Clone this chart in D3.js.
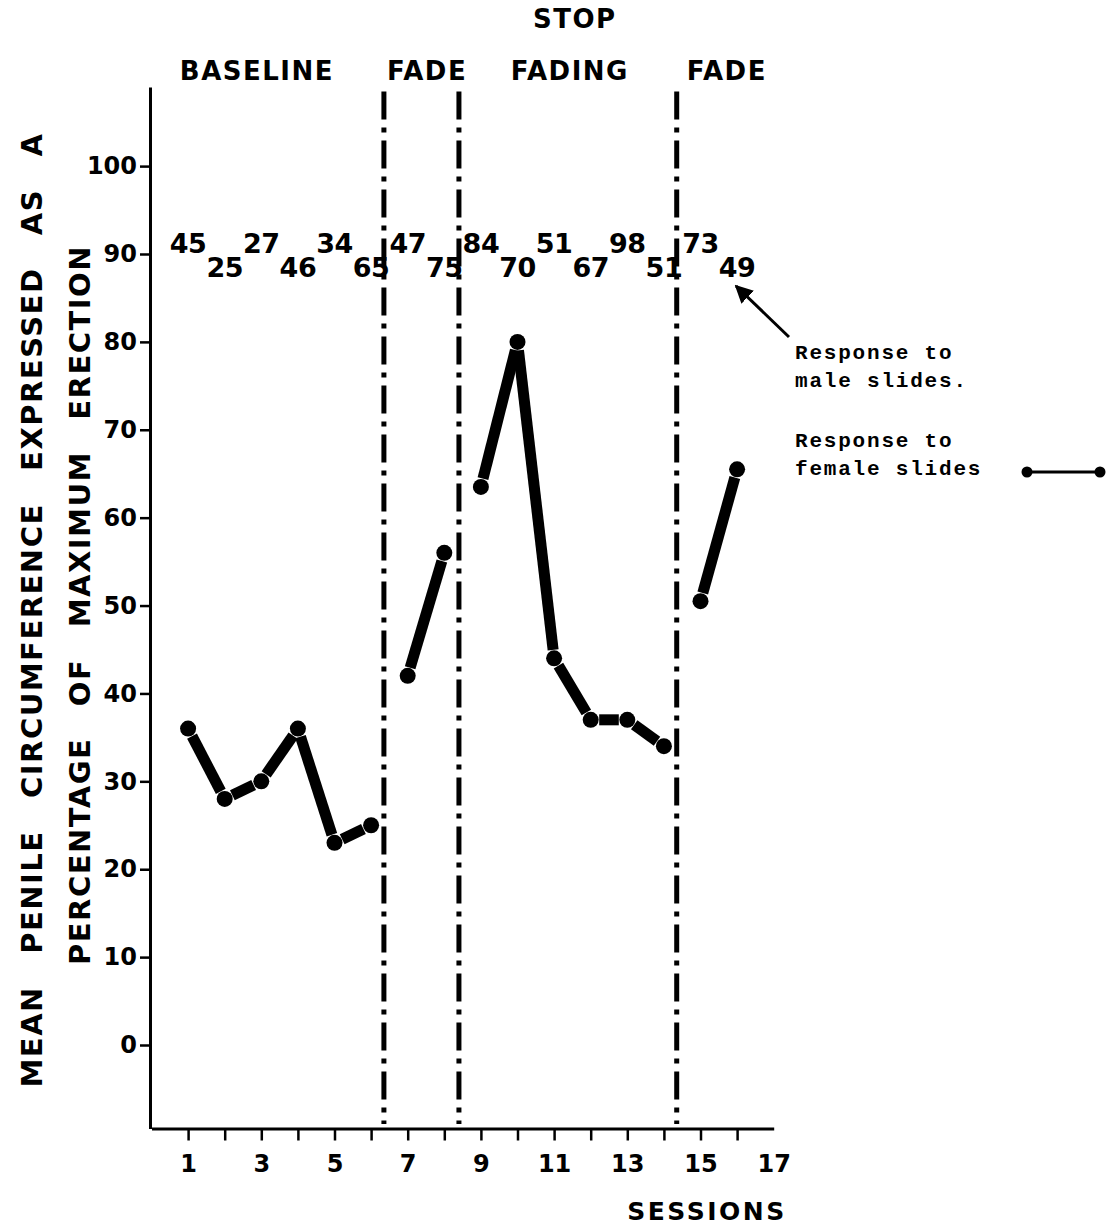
<!DOCTYPE html>
<html>
<head>
<meta charset="utf-8">
<script src="https://cdn.jsdelivr.net/npm/d3@7"></script>
<style>
  body { margin: 0; background: #fff; }
  .bold { font-family: "DejaVu Sans", sans-serif; font-weight: bold; }
  .mono { font-family: "Liberation Mono", "DejaVu Sans Mono", monospace; }
</style>
</head>
<body>
<div id="chart"></div>
<script>
// Sessions and responses
const sessions = [1, 2, 3, 4, 5, 6, 7, 8, 9, 10, 11, 12, 13, 14, 15, 16]
const femaleResponse = [36, 28, 30, 36, 23, 25, 42, 56, 63.5, 80, 44, 37, 37, 34, 50.5, 65.5]
const maleResponse = [45, 25, 27, 46, 34, 65, 47, 75, 84, 70, 51, 67, 98, 51, 73, 49]
// phase boundaries (session units) and phase titles
const phaseBreaks = [6.35, 8.4, 14.35]
const phaseLabels = ['BASELINE', 'FADE', 'FADING', 'FADE']
const phaseLabelAt = [2.88, 7.53, 11.43, 15.72]
const yTicks = [0, 10, 20, 30, 40, 50, 60, 70, 80, 90, 100]
const xTicks = [1, 2, 3, 4, 5, 6, 7, 8, 9, 10, 11, 12, 13, 14, 15, 16, 17]
const yTitle = ['MEAN PENILE CIRCUMFERENCE EXPRESSED AS A', 'PERCENTAGE OF MAXIMUM ERECTION']

const W = 1119, H = 1227

let svg = d3.select('#chart').append('svg')
  .attr('width', W)
  .attr('height', H)

let x = d3.scaleLinear().domain([0, 17]).range([151.5, 773.7])
let y = d3.scaleLinear().domain([-9.5, 109]).range([1128.5, 87])

// Y axis
let yAxis = svg.append('g')
  .attr('transform', 'translate(150,0)')
  .call(d3.axisLeft(y).tickValues(yTicks).tickSize(10).tickSizeOuter(0).tickPadding(3))
yAxis.select('.domain').attr('stroke-width', 3)
yAxis.selectAll('.tick line').attr('stroke-width', 2.5)
yAxis.selectAll('.tick text')
  .attr('class', 'bold')
  .style('font-size', '24px')
  .attr('fill', '#000')

// X axis
let xAxis = svg.append('g')
  .attr('transform', `translate(0,${y(-9.5)})`)
  .call(d3.axisBottom(x).tickValues(xTicks).tickSize(12).tickSizeOuter(0).tickPadding(14)
    .tickFormat(d => d % 2 ? d : ''))
xAxis.select('.domain').attr('stroke-width', 3)
xAxis.selectAll('.tick line').attr('stroke-width', 2.5)
xAxis.selectAll('.tick').filter(d => d === 17).select('line').remove()
xAxis.selectAll('.tick text')
  .attr('class', 'bold')
  .style('font-size', '24px')
  .attr('fill', '#000')

svg.append('text')
  .attr('class', 'bold')
  .attr('x', 707)
  .attr('y', 1220)
  .attr('text-anchor', 'middle')
  .style('font-size', '25px')
  .style('letter-spacing', '2.5px')
  .text('SESSIONS')

// Y axis title, two rotated lines spread out like the original
function spreadWords(sel, target) {
  let len = sel.node().getComputedTextLength()
  let gaps = sel.text().split(' ').length - 1
  sel.style('word-spacing', ((target - len) / gaps) + 'px')
}
let yt1 = svg.append('text')
  .attr('class', 'bold')
  .attr('transform', 'translate(42,610) rotate(-90)')
  .attr('text-anchor', 'middle')
  .style('font-size', '29px')
  .style('letter-spacing', '1.5px')
  .text(yTitle[0])
spreadWords(yt1, 955)
let yt2 = svg.append('text')
  .attr('class', 'bold')
  .attr('transform', 'translate(90,605) rotate(-90)')
  .attr('text-anchor', 'middle')
  .style('font-size', '29px')
  .style('letter-spacing', '1.5px')
  .text(yTitle[1])
spreadWords(yt2, 720)

// Phase change lines
svg.selectAll('.phase')
  .data(phaseBreaks)
  .enter().append('line')
  .attr('class', 'phase')
  .attr('x1', d => x(d))
  .attr('x2', d => x(d))
  .attr('y1', y(108.5))
  .attr('y2', y(-9))
  .attr('stroke', '#000')
  .attr('stroke-width', 5)
  .attr('stroke-dasharray', '28,8,5,8')

// Phase titles
svg.selectAll('.phaseLabel')
  .data(phaseLabels)
  .enter().append('text')
  .attr('class', 'bold')
  .attr('x', (d, i) => x(phaseLabelAt[i]))
  .attr('y', 80)
  .attr('text-anchor', 'middle')
  .style('font-size', '26px')
  .style('letter-spacing', '1.5px')
  .text(d => d)
svg.append('text')
  .attr('class', 'bold')
  .attr('x', x(phaseLabelAt[2]) + 5)
  .attr('y', 28)
  .attr('text-anchor', 'middle')
  .style('font-size', '26px')
  .style('letter-spacing', '1.5px')
  .text('STOP')

// Male slide responses written as alternating numbers
svg.selectAll('.male')
  .data(maleResponse)
  .enter().append('text')
  .attr('class', 'bold')
  .attr('x', (d, i) => x(sessions[i]))
  .attr('y', (d, i) => i % 2 ? 277 : 253)
  .attr('text-anchor', 'middle')
  .style('font-size', '27px')
  .style('letter-spacing', '-0.5px')
  .text(d => d)

// Female slide responses: thick segments within each phase
let points = sessions.map((s, i) => ({ s: s, v: femaleResponse[i], phase: d3.bisect(phaseBreaks, s) }))
let segs = []
for (let i = 1; i < points.length; i++) {
  if (points[i].phase === points[i - 1].phase) segs.push([points[i - 1], points[i]])
}
let gap = 8.5
svg.selectAll('.seg')
  .data(segs)
  .enter().append('line')
  .attr('class', 'seg')
  .each(function(d) {
    let x1 = x(d[0].s), y1 = y(d[0].v), x2 = x(d[1].s), y2 = y(d[1].v)
    let len = Math.hypot(x2 - x1, y2 - y1)
    let ux = (x2 - x1) / len, uy = (y2 - y1) / len
    d3.select(this)
      .attr('x1', x1 + ux * gap).attr('y1', y1 + uy * gap)
      .attr('x2', x2 - ux * gap).attr('y2', y2 - uy * gap)
  })
  .attr('stroke', '#000')
  .attr('stroke-width', 11)
  .attr('stroke-linecap', 'butt')

svg.selectAll('.dot')
  .data(points)
  .enter().append('circle')
  .attr('cx', d => x(d.s))
  .attr('cy', d => y(d.v))
  .attr('r', 8)
  .attr('fill', '#000')

// Legend
let legendLines = [['Response to', 359], ['male slides.', 387], ['Response to', 447], ['female slides', 475]]
svg.selectAll('.leg')
  .data(legendLines)
  .enter().append('text')
  .attr('class', 'mono')
  .attr('x', 795)
  .attr('y', d => d[1])
  .style('font-size', '21px')
  .style('font-weight', 'bold')
  .style('letter-spacing', '1.8px')
  .attr('fill', '#000')
  .text(d => d[0])

svg.append('line')
  .attr('x1', 1027).attr('x2', 1100)
  .attr('y1', 472).attr('y2', 472)
  .attr('stroke', '#000')
  .attr('stroke-width', 3)
svg.selectAll('.legdot')
  .data([1027, 1100])
  .enter().append('circle')
  .attr('cx', d => d)
  .attr('cy', 472)
  .attr('r', 5.5)
  .attr('fill', '#000')

// Arrow pointing at the last male number
svg.append('defs').append('marker')
  .attr('id', 'arrow')
  .attr('viewBox', '0 0 10 10')
  .attr('refX', 9)
  .attr('refY', 5)
  .attr('markerWidth', 6)
  .attr('markerHeight', 6)
  .attr('orient', 'auto')
  .append('path')
  .attr('d', 'M0,0 L10,5 L0,10 Z')
  .attr('fill', '#000')
svg.append('line')
  .attr('x1', 789).attr('y1', 337)
  .attr('x2', 736).attr('y2', 286)
  .attr('stroke', '#000')
  .attr('stroke-width', 3)
  .attr('marker-end', 'url(#arrow)')
</script>
</body>
</html>
